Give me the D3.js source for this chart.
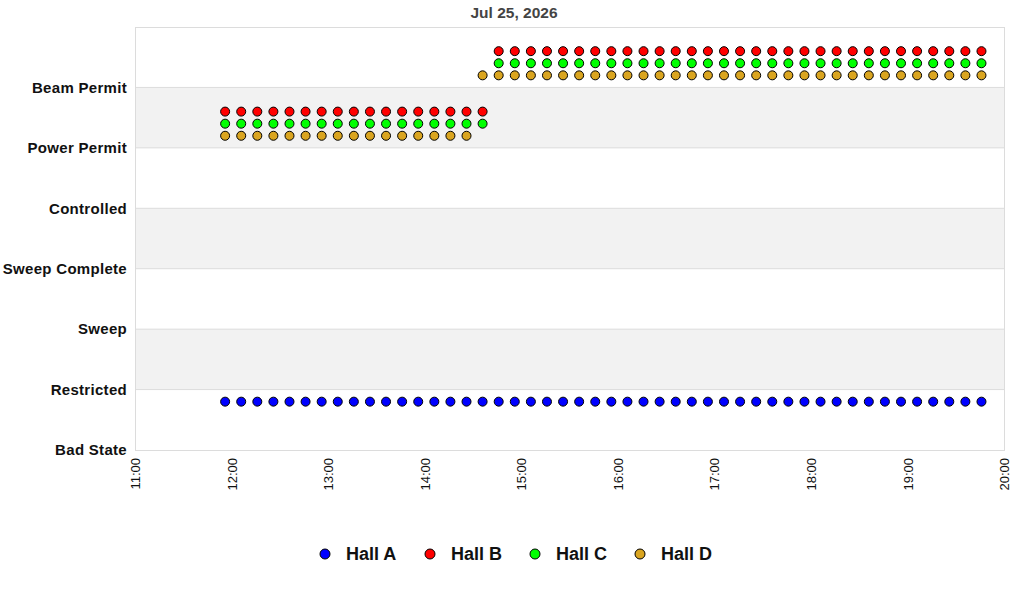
<!DOCTYPE html>
<html>
<head>
<meta charset="utf-8">
<script src="https://cdn.jsdelivr.net/npm/d3@7"></script>
<style>
  body { margin: 0; background: #fff; }
  text { font-family: "Liberation Sans", Arial, sans-serif; }
</style>
</head>
<body>
<div id="chart"></div>
<script>
// ********** DATA **********
var title = 'Jul 25, 2026';
var day = '2026-07-25';
var states = ['Bad State', 'Restricted', 'Sweep', 'Sweep Complete', 'Controlled', 'Power Permit', 'Beam Permit'];
var halls = ['Hall A', 'Hall B', 'Hall C', 'Hall D'];
var hallColors = ['#0000ff', '#ff0000', '#00ff00', '#daa520'];
// small vertical offset so the halls don't sit on top of each other
var hallOffsets = [-0.2, 0.6, 0.4, 0.2];

var times = ['11:56', '12:06', '12:16', '12:26', '12:36', '12:46', '12:56', '13:06', '13:16', '13:26',
  '13:36', '13:46', '13:56', '14:06', '14:16', '14:26', '14:36', '14:46', '14:56', '15:06',
  '15:16', '15:26', '15:36', '15:46', '15:56', '16:06', '16:16', '16:26', '16:36', '16:46',
  '16:56', '17:06', '17:16', '17:26', '17:36', '17:46', '17:56', '18:06', '18:16', '18:26',
  '18:36', '18:46', '18:56', '19:06', '19:16', '19:26', '19:36', '19:46'];

// state index per time, one list per hall
var hallA = [1, 1, 1, 1, 1, 1, 1, 1, 1, 1, 1, 1, 1, 1, 1, 1, 1, 1, 1, 1, 1, 1, 1, 1,
  1, 1, 1, 1, 1, 1, 1, 1, 1, 1, 1, 1, 1, 1, 1, 1, 1, 1, 1, 1, 1, 1, 1, 1];
var hallB = [5, 5, 5, 5, 5, 5, 5, 5, 5, 5, 5, 5, 5, 5, 5, 5, 5, 6, 6, 6, 6, 6, 6, 6,
  6, 6, 6, 6, 6, 6, 6, 6, 6, 6, 6, 6, 6, 6, 6, 6, 6, 6, 6, 6, 6, 6, 6, 6];
var hallC = [5, 5, 5, 5, 5, 5, 5, 5, 5, 5, 5, 5, 5, 5, 5, 5, 5, 6, 6, 6, 6, 6, 6, 6,
  6, 6, 6, 6, 6, 6, 6, 6, 6, 6, 6, 6, 6, 6, 6, 6, 6, 6, 6, 6, 6, 6, 6, 6];
var hallD = [5, 5, 5, 5, 5, 5, 5, 5, 5, 5, 5, 5, 5, 5, 5, 5, 6, 6, 6, 6, 6, 6, 6, 6,
  6, 6, 6, 6, 6, 6, 6, 6, 6, 6, 6, 6, 6, 6, 6, 6, 6, 6, 6, 6, 6, 6, 6, 6];
var hallSeries = [hallA, hallB, hallC, hallD];

// ********** SETUP **********
var width = 1024, height = 600;
var margin = { top: 27, right: 20, bottom: 150, left: 135 };
var plotW = 1004 - margin.left;
var plotH = 450 - margin.top;

var parseTime = d3.timeParse('%Y-%m-%d %H:%M');

var svg = d3.select('#chart').append('svg')
  .attr('width', width)
  .attr('height', height);

var x = d3.scaleTime()
  .domain([parseTime(day + ' 11:00'), parseTime(day + ' 20:00')])
  .range([0, plotW]);

var y = d3.scaleLinear()
  .domain([0, states.length])
  .range([plotH, 0]);

var g = svg.append('g')
  .attr('transform', 'translate(' + margin.left + ',' + margin.top + ')');

// alternating bands (between Restricted-Sweep, Sweep Complete-Controlled, Power Permit-Beam Permit)
g.selectAll('.band')
  .data([1, 3, 5])
  .join('rect')
  .attr('class', 'band')
  .attr('x', 0)
  .attr('width', plotW)
  .attr('y', d => y(d + 1))
  .attr('height', d => y(d) - y(d + 1))
  .attr('fill', '#f2f2f2');

// horizontal grid lines
g.selectAll('.grid')
  .data(d3.range(1, states.length))
  .join('line')
  .attr('class', 'grid')
  .attr('x1', 0)
  .attr('x2', plotW)
  .attr('y1', d => y(d))
  .attr('y2', d => y(d))
  .attr('stroke', '#dcdcdc');

// plot border
g.append('rect')
  .attr('x', 0.5)
  .attr('y', 0.5)
  .attr('width', plotW)
  .attr('height', plotH)
  .attr('fill', 'none')
  .attr('stroke', '#dcdcdc');

// ********** AXES **********
var yAxis = g.append('g')
  .call(d3.axisLeft(y)
    .tickValues(d3.range(0, states.length))
    .tickFormat(i => states[i])
    .tickSize(0)
    .tickPadding(8));
yAxis.select('.domain').remove();
yAxis.selectAll('text')
  .attr('font-family', '"Liberation Sans", Arial, sans-serif')
  .attr('font-size', 15)
  .attr('font-weight', 'bold')
  .attr('letter-spacing', '0.3px')
  .attr('fill', '#111');

var xAxis = g.append('g')
  .attr('transform', 'translate(0,' + plotH + ')')
  .call(d3.axisBottom(x)
    .ticks(d3.timeHour.every(1))
    .tickFormat(d3.timeFormat('%H:%M'))
    .tickSize(0));
xAxis.select('.domain').remove();
xAxis.selectAll('text')
  .attr('font-family', '"Liberation Sans", Arial, sans-serif')
  .attr('font-size', 13)
  .attr('fill', '#111')
  .attr('transform', 'rotate(-90)')
  .attr('text-anchor', 'end')
  .attr('x', -8)
  .attr('y', 0)
  .attr('dy', '0.35em');

// ********** POINTS **********
hallSeries.forEach(function(series, h) {
  var pts = times.map(function(t, i) {
    return { time: parseTime(day + ' ' + t), state: series[i] };
  });
  g.selectAll('.pt-' + h)
    .data(pts)
    .join('circle')
    .attr('class', 'pt-' + h)
    .attr('cx', d => x(d.time))
    .attr('cy', d => y(d.state + hallOffsets[h]))
    .attr('r', 4.5)
    .attr('fill', hallColors[h])
    .attr('stroke', '#000')
    .attr('stroke-width', 1);
});

// ********** TITLE **********
svg.append('text')
  .attr('x', 514)
  .attr('y', 18)
  .attr('text-anchor', 'middle')
  .attr('font-size', 15.5)
  .attr('font-weight', 'bold')
  .attr('fill', '#444')
  .text(title);

// ********** LEGEND **********
var legendX = [325, 430, 535, 640];
var legend = svg.selectAll('.legend')
  .data(halls)
  .join('g')
  .attr('class', 'legend')
  .attr('transform', (d, i) => 'translate(' + legendX[i] + ',554)');
legend.append('circle')
  .attr('r', 5)
  .attr('fill', (d, i) => hallColors[i])
  .attr('stroke', '#000');
legend.append('text')
  .attr('x', 21)
  .attr('dy', '0.35em')
  .attr('font-size', 18)
  .attr('font-weight', 'bold')
  .attr('fill', '#111')
  .text(d => d);
</script>
</body>
</html>
